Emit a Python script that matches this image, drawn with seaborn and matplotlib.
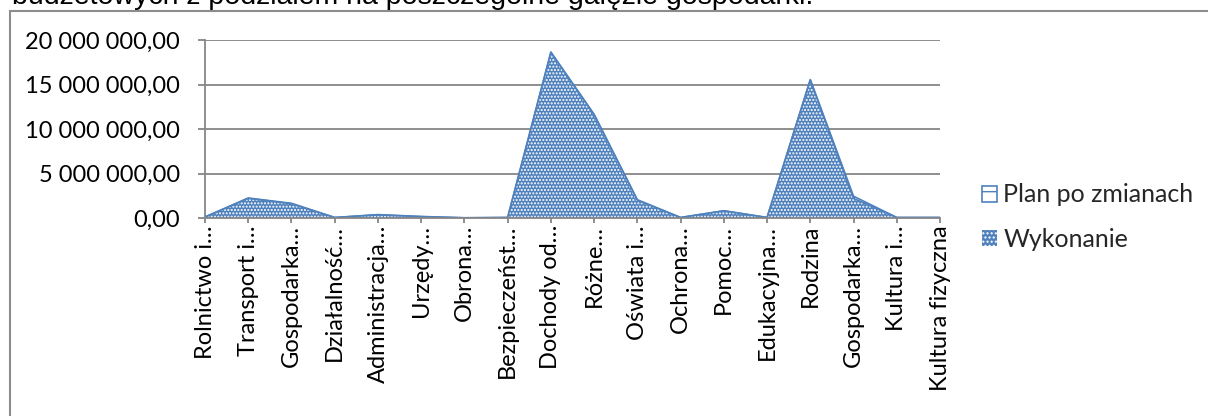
import matplotlib
matplotlib.use("Agg")
import matplotlib.pyplot as plt
from matplotlib.patches import Patch, Rectangle
from matplotlib.ticker import FuncFormatter
import numpy as np
import pandas as pd
import seaborn as sns

# --------------------------------------------------------------------------- #
# Data
# --------------------------------------------------------------------------- #
categories = [
    "Rolnictwo i…", "Transport i…", "Gospodarka…", "Działalność…",
    "Administracja…", "Urzędy…", "Obrona…", "Bezpieczeńst…", "Dochody od…",
    "Różne…", "Oświata i…", "Ochrona…", "Pomoc…", "Edukacyjna…", "Rodzina",
    "Gospodarka…", "Kultura i…", "Kultura fizyczna",
]
plan = [
    120_000, 2_250_000, 1_650_000, 60_000, 380_000, 170_000, 25_000, 60_000,
    18_650_000, 11_650_000, 2_050_000, 60_000, 820_000, 60_000, 15_550_000,
    2_450_000, 60_000, 60_000,
]
wykonanie = [
    100_000, 2_200_000, 1_600_000, 50_000, 350_000, 150_000, 20_000, 50_000,
    18_600_000, 11_600_000, 2_000_000, 50_000, 800_000, 50_000, 15_500_000,
    2_200_000, 50_000, 50_000,
]
series_names = ["Plan po zmianach", "Wykonanie"]
title_text = "budżetowych z podziałem na poszczególne gałęzie gospodarki."

BLUE = "#4F81BD"
GRID = "#868686"

sns.set_theme(style="white")
plt.rcParams["font.family"] = ["Lato", "DejaVu Sans"]
plt.rcParams["hatch.linewidth"] = 1.0

df = pd.DataFrame({"x": np.arange(len(categories)), "plan": plan, "wyk": wykonanie})

W, H = 1208, 416
fig = plt.figure(figsize=(W / 100, H / 100), dpi=100)
ax = fig.add_axes([205 / W, 1 - 218 / H, (940 - 205) / W, (218 - 40) / H])

# chart frame (runs off the right and bottom edges)
fig.add_artist(Rectangle((9.5 / W, -0.2), 1.2, 1.2 - 11 / H,
                         transform=fig.transFigure, fill=False,
                         edgecolor="#8c8c8c", linewidth=1.5, zorder=0))
fig.text(12 / W, 1 - 4 / H, title_text, family="Liberation Sans",
         fontsize=20.5, va="baseline", ha="left", color="black")

# Plan drawn first (behind), Wykonanie on top
ax.fill_between(df["x"], 0, df["plan"], facecolor="white", edgecolor=BLUE,
                hatch="---", linewidth=0, zorder=2)
sns.lineplot(data=df, x="x", y="plan", color=BLUE, lw=1.2, ax=ax, zorder=3)
ax.fill_between(df["x"], 0, df["wyk"], facecolor=BLUE, edgecolor="white",
                hatch=".....", linewidth=0, zorder=4)
sns.lineplot(data=df, x="x", y="wyk", color=BLUE, lw=1.2, ax=ax, zorder=5)

ax.set_xlim(0, len(categories) - 1)
ax.set_ylim(0, 20_000_000)
ax.set_yticks(np.arange(0, 20_000_001, 5_000_000))
ax.yaxis.set_major_formatter(FuncFormatter(
    lambda v, _: f"{v:,.2f}".replace(",", " ").replace(".", ",")))
ax.set_xticks(df["x"])
ax.set_xticklabels(categories, rotation=90, ha="center", va="top")
ax.set_xlabel("")
ax.set_ylabel("")

ax.grid(axis="y", color=GRID, linewidth=1.3, zorder=1)
ax.set_axisbelow(True)
for side in ["top", "right"]:
    ax.spines[side].set_visible(False)
for side in ["left", "bottom"]:
    ax.spines[side].set_color(GRID)
    ax.spines[side].set_linewidth(1.3)
    ax.spines[side].set_zorder(6)
ax.tick_params(axis="y", left=True, length=5, width=1.3, color=GRID,
               labelsize=17, pad=13, labelcolor="black")
ax.tick_params(axis="x", bottom=True, length=3.6, width=1.3, color=GRID,
               labelsize=17, pad=1.5, labelcolor="black")

handles = [
    Patch(facecolor="white", edgecolor=BLUE, hatch="-", linewidth=1.2),
    Patch(facecolor=BLUE, edgecolor="white", hatch="....", linewidth=0),
]
fig.legend(handles, series_names, loc="center left",
           bbox_to_anchor=(982 / W, 1 - 217 / H), frameon=False,
           fontsize=18, borderpad=0, borderaxespad=0, handlelength=0.6,
           handleheight=0.6, handletextpad=0.25, labelspacing=0.85)

fig.savefig("out.png", dpi=100)
